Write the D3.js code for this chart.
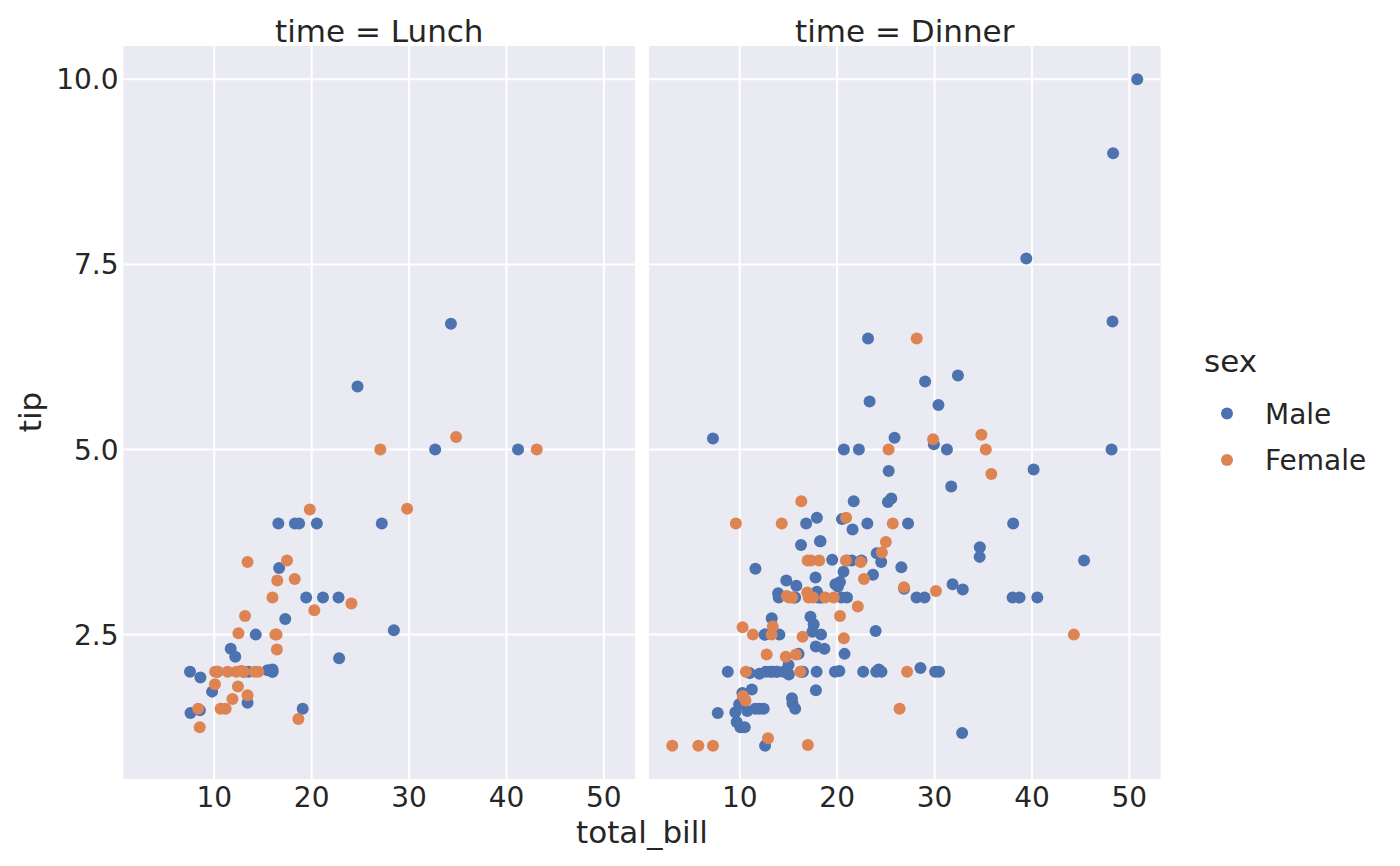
<!DOCTYPE html>
<html><head><meta charset="utf-8">
<script src="https://cdn.jsdelivr.net/npm/d3@7"></script>
<style>body{margin:0;background:#fff}svg{display:block}text{font-family:"DejaVu Sans";fill:#262626}</style>
</head><body><svg id="c" width="1400" height="866"></svg>
<script>
// [total_bill, tip]
const lunchMale = [[27.2,4.0],[22.76,3.0],[17.29,2.71],[19.44,3.0],[16.66,3.4],[32.68,5.0],[15.98,2.03],[13.03,2.0],[18.28,4.0],[24.71,5.85],[21.16,3.0],[11.69,2.31],[14.26,2.5],[15.95,2.0],[8.52,1.48],[22.82,2.18],[19.08,1.5],[16.0,2.0],[34.3,6.7],[41.19,5.0],[9.78,1.73],[7.51,2.0],[28.44,2.56],[15.48,2.02],[16.58,4.0],[7.56,1.44],[10.34,2.0],[13.51,2.0],[18.71,4.0],[20.53,4.0],[12.16,2.2],[8.58,1.92],[13.42,1.58]];
const lunchFemale = [[10.07,1.83],[34.83,5.17],[10.65,1.5],[12.43,1.8],[24.08,2.92],[13.42,1.68],[12.48,2.52],[29.8,4.2],[14.52,2.0],[11.38,2.0],[20.27,2.83],[11.17,1.5],[12.26,2.0],[18.26,3.25],[8.51,1.25],[10.33,2.0],[14.15,2.0],[13.16,2.75],[17.47,3.5],[27.05,5.0],[16.43,2.3],[8.35,1.5],[18.64,1.36],[11.87,1.63],[19.81,4.19],[43.11,5.0],[13.0,2.0],[12.74,2.01],[13.0,2.0],[16.4,2.5],[16.47,3.23],[13.42,3.48],[15.98,3.0],[16.27,2.5],[10.09,2.0]];
const dinnerMale = [[10.34,1.66],[21.01,3.5],[23.68,3.31],[25.29,4.71],[8.77,2.0],[26.88,3.12],[15.04,1.96],[14.78,3.23],[10.27,1.71],[15.42,1.57],[18.43,3.0],[21.58,3.92],[16.29,3.71],[20.65,3.35],[17.92,4.08],[39.42,7.58],[19.82,3.18],[17.81,2.34],[13.37,2.0],[12.69,2.0],[21.7,4.3],[9.55,1.45],[18.35,2.5],[17.78,3.27],[24.06,3.6],[16.31,2.0],[18.69,2.31],[31.27,5.0],[16.04,2.24],[17.46,2.54],[13.94,3.06],[9.68,1.32],[30.4,5.6],[18.29,3.0],[22.23,5.0],[32.4,6.0],[28.55,2.05],[18.04,3.0],[12.54,2.5],[9.94,1.56],[25.56,4.34],[19.49,3.51],[38.01,3.0],[11.24,1.76],[48.27,6.73],[20.29,3.21],[13.81,2.0],[11.02,1.98],[18.29,3.76],[17.59,2.64],[20.08,3.15],[20.23,2.01],[15.01,2.09],[12.02,1.97],[10.51,1.25],[17.92,3.08],[28.97,3.0],[22.49,3.5],[40.17,4.73],[27.28,4.0],[12.03,1.5],[21.01,3.0],[12.46,1.5],[15.36,1.64],[20.49,4.06],[25.21,4.29],[18.24,3.76],[14.0,3.0],[38.07,4.0],[23.95,2.55],[29.93,5.07],[14.07,2.5],[13.13,2.0],[17.26,2.74],[24.55,2.0],[19.77,2.0],[48.17,5.0],[16.49,2.0],[21.5,3.5],[12.66,2.5],[13.81,2.0],[24.52,3.48],[20.76,2.24],[31.71,4.5],[50.81,10.0],[15.81,3.16],[7.25,5.15],[31.85,3.18],[16.82,4.0],[32.9,3.11],[17.89,2.0],[14.48,2.0],[34.63,3.55],[34.65,3.68],[23.33,5.65],[45.35,3.5],[23.17,6.5],[40.55,3.0],[20.69,5.0],[30.46,2.0],[23.1,4.0],[15.69,1.5],[26.59,3.41],[38.73,3.0],[24.27,2.03],[30.06,2.0],[25.89,5.16],[48.33,9.0],[28.15,3.0],[11.59,1.5],[7.74,1.44],[20.45,3.0],[13.28,2.72],[24.01,2.0],[15.69,3.0],[11.61,3.39],[10.77,1.47],[15.53,3.0],[10.07,1.25],[12.6,1.0],[32.83,1.17],[29.03,5.92],[22.67,2.0],[17.82,1.75]];
const dinnerFemale = [[16.99,1.01],[24.59,3.61],[35.26,5.0],[14.83,3.02],[10.33,1.67],[16.97,3.5],[20.29,2.75],[15.77,2.23],[19.65,3.0],[15.06,3.0],[20.69,2.45],[16.93,3.07],[10.29,2.6],[34.81,5.2],[26.41,1.5],[16.45,2.47],[3.07,1.0],[17.07,3.0],[26.86,3.14],[25.28,5.0],[14.73,2.2],[5.75,1.0],[16.32,4.3],[22.75,3.25],[11.35,2.5],[15.38,3.0],[44.3,2.5],[22.42,3.48],[20.92,4.08],[14.31,4.0],[7.25,1.0],[25.71,4.0],[17.31,3.5],[29.85,5.14],[25.0,3.75],[13.39,2.61],[16.21,2.0],[17.51,3.0],[10.59,1.61],[10.63,2.0],[9.6,4.0],[20.9,3.5],[18.15,3.5],[12.76,2.23],[13.27,2.5],[28.17,6.5],[12.9,1.1],[30.14,3.09],[22.12,2.88],[35.83,4.67],[27.18,2.0],[18.78,3.0]];
const facetTitles = ["time = Lunch", "time = Dinner"];
const sexLevels = ["Male", "Female"];
const xTicks = [10, 20, 30, 40, 50];
const yTicks = [2.5, 5.0, 7.5, 10.0];

const colors = {Male: "#4C72B0", Female: "#DD8452"};
const facets = [
  {title: facetTitles[0], groups: [["Male", lunchMale], ["Female", lunchFemale]]},
  {title: facetTitles[1], groups: [["Male", dinnerMale], ["Female", dinnerFemale]]}
];
const all = [...lunchMale, ...lunchFemale, ...dinnerMale, ...dinnerFemale];
const xmin = d3.min(all, d => d[0]), xmax = d3.max(all, d => d[0]);
const ymin = d3.min(all, d => d[1]), ymax = d3.max(all, d => d[1]);
const xm = (xmax - xmin) * 0.05, ym = (ymax - ymin) * 0.05;

const TICK = 28, LABEL = 31;
const svg = d3.select("#c");
const pTop = 46, pBottom = 779;
const panels = [[123.5, 635], [649, 1160.5]];
const y = d3.scaleLinear().domain([ymin - ym, ymax + ym]).range([pBottom, pTop]);

facets.forEach((f, i) => {
  const [l, r] = panels[i];
  const x = d3.scaleLinear().domain([xmin - xm, xmax + xm]).range([l, r]);
  const g = svg.append("g");
  g.append("rect").attr("x", l).attr("y", pTop).attr("width", r - l).attr("height", pBottom - pTop).attr("fill", "#EAEAF2");
  g.append("g").selectAll("line").data(xTicks).join("line").attr("x1", d => x(d)).attr("x2", d => x(d)).attr("y1", pTop).attr("y2", pBottom).attr("stroke", "#fff").attr("stroke-width", 2);
  g.append("g").selectAll("line").data(yTicks).join("line").attr("y1", d => y(d)).attr("y2", d => y(d)).attr("x1", l).attr("x2", r).attr("stroke", "#fff").attr("stroke-width", 2);
  f.groups.forEach(([sex, pts]) => {
    g.append("g").selectAll("circle").data(pts).join("circle")
      .attr("cx", d => x(d[0])).attr("cy", d => y(d[1])).attr("r", 6).attr("fill", colors[sex]);
  });
  g.append("g").selectAll("text").data(xTicks).join("text").attr("x", d => x(d)).attr("y", 807)
    .attr("text-anchor", "middle").attr("font-size", TICK).text(d => d);
  if (i === 0) {
    g.append("g").selectAll("text").data(yTicks).join("text").attr("x", l - 5).attr("y", d => y(d)).attr("dy", "0.36em")
      .attr("text-anchor", "end").attr("font-size", TICK).text(d => d.toFixed(1));
  }
  g.append("text").attr("x", (l + r) / 2).attr("y", 42).attr("text-anchor", "middle").attr("font-size", LABEL).text(f.title);
});

svg.append("text").attr("x", 642).attr("y", 843).attr("text-anchor", "middle").attr("font-size", LABEL).text("total_bill");
svg.append("text").attr("transform", "translate(41,412) rotate(-90)").attr("text-anchor", "middle").attr("font-size", LABEL).text("tip");

const lg = svg.append("g");
lg.append("text").attr("x", 1204).attr("y", 372).attr("font-size", LABEL).text("sex");
sexLevels.forEach((s, i) => {
  const yy = 413.5 + i * 46.5;
  lg.append("circle").attr("cx", 1227).attr("cy", yy).attr("r", 6).attr("fill", colors[s]);
  lg.append("text").attr("x", 1265).attr("y", yy).attr("dy", "0.36em").attr("font-size", TICK).text(s);
});
</script></body></html>
